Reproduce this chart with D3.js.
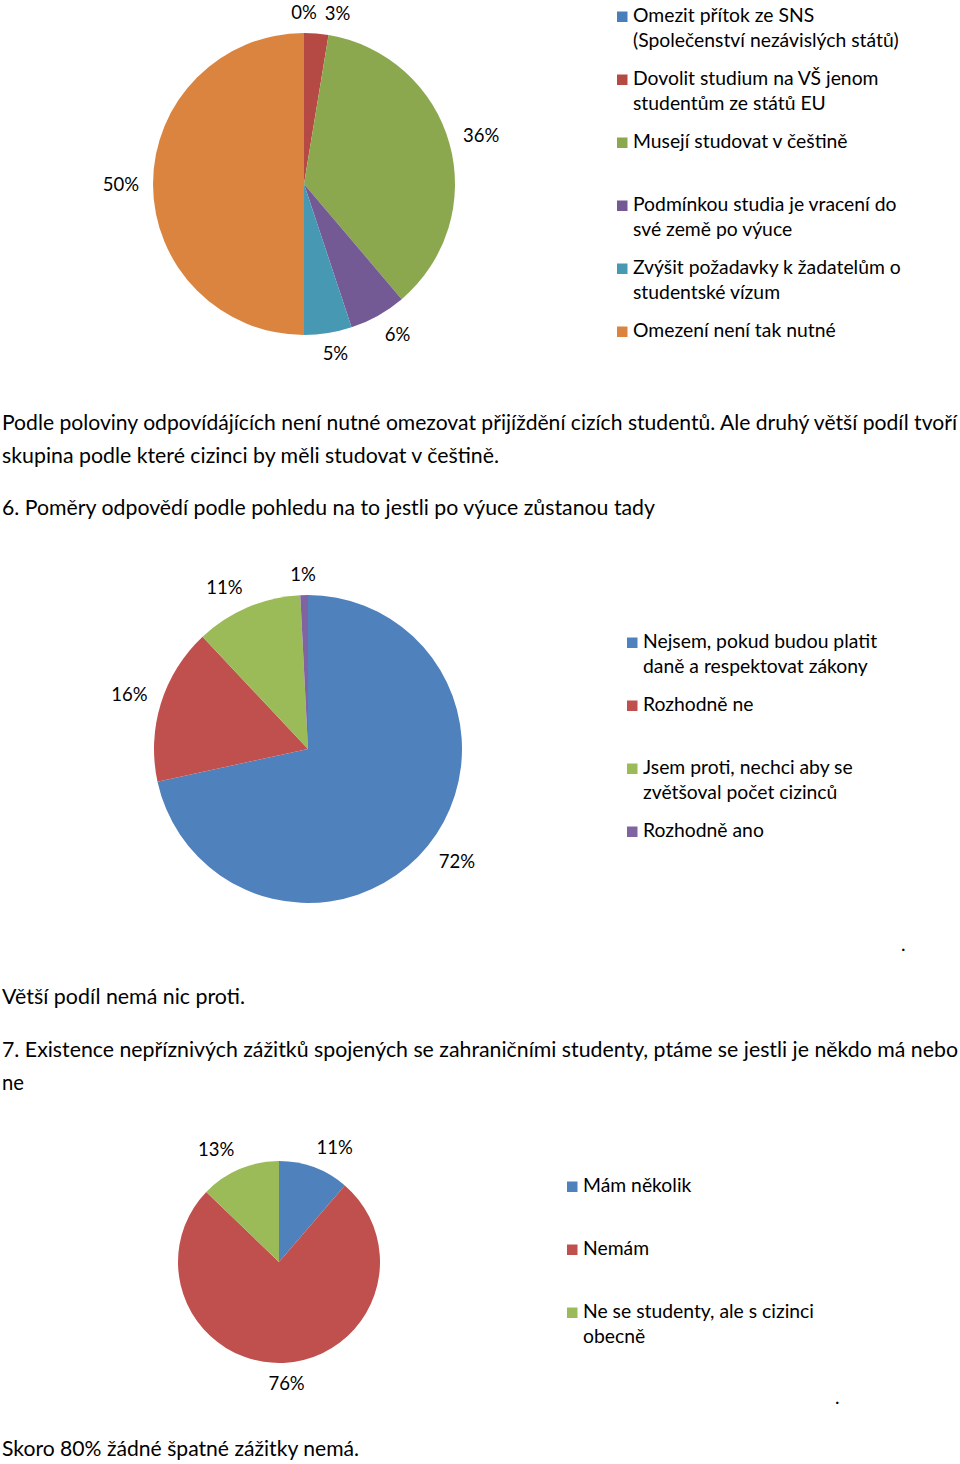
<!DOCTYPE html>
<html><head><meta charset="utf-8">
<script src="https://cdn.jsdelivr.net/npm/d3@7"></script>
<style>html,body{margin:0;padding:0;background:#fff}svg{display:block}</style>
</head><body>
<svg id="c" width="960" height="1464"></svg>
<script>
// ---------- DATA ----------
const chart1Categories = [
  "Omezit přítok ze SNS\n(Společenství nezávislých států)",
  "Dovolit studium na VŠ jenom\nstudentům ze států EU",
  "Musejí studovat v češtině",
  "Podmínkou studia je vracení do\nsvé země po výuce",
  "Zvýšit požadavky k žadatelům o\nstudentské vízum",
  "Omezení není tak nutné"
];
const chart1Values = [0, 2.6, 36.2, 6.1, 5.1, 50];
const chart1Labels = ["0%", "3%", "36%", "6%", "5%", "50%"];

const chart2Categories = [
  "Nejsem, pokud budou platit\ndaně a respektovat zákony",
  "Rozhodně ne",
  "Jsem proti, nechci aby se\nzvětšoval počet cizinců",
  "Rozhodně ano"
];
const chart2Values = [71.6, 16.4, 11.2, 0.8];
const chart2Labels = ["72%", "16%", "11%", "1%"];

const chart3Categories = [
  "Mám několik",
  "Nemám",
  "Ne se studenty, ale s cizinci\nobecně"
];
const chart3Values = [11.3, 75.9, 12.8];
const chart3Labels = ["11%", "76%", "13%"];

const paragraphs = [
  "Podle poloviny odpovídájících není nutné omezovat přijíždění cizích studentů. Ale druhý větší podíl tvoří",
  "skupina podle které cizinci by měli studovat v češtině.",
  "6. Poměry odpovědí podle pohledu na to jestli po výuce zůstanou tady",
  "Větší podíl nemá nic proti.",
  "7. Existence nepříznivých zážitků spojených se zahraničními studenty, ptáme se jestli je někdo má nebo",
  "ne",
  "Skoro 80% žádné špatné zážitky nemá."
];

// ---------- STYLE / LAYOUT ----------
const FONT = "Lato, 'Open Sans', sans-serif";
const colors1 = ["#4A7EBB", "#B54A44", "#8BA84F", "#735A95", "#4799B3", "#DA843F"];
const colors2 = ["#4F81BD", "#C0504D", "#9BBB59", "#8064A2"];
const colors3 = ["#4F81BD", "#C0504D", "#9BBB59"];

const paraLayout = [
  {y: 430, w: 955}, {y: 463, w: 497}, {y: 515, w: 653},
  {y: 1004, w: 243}, {y: 1057, w: 956}, {y: 1090, w: 22}, {y: 1456, w: 357}
];

const svg = d3.select("#c");
svg.append("rect").attr("width", 960).attr("height", 1464).attr("fill", "#fff");

function measure(text, size) {
  const t = svg.append("text").attr("font-family", FONT).attr("font-size", size).text(text);
  const w = t.node().getComputedTextLength();
  t.remove();
  return w;
}
function fitSize(text, target, base) {
  return base * target / measure(text, base);
}

const bodySize = Math.min(22, fitSize(paragraphs[0], 955, 21));
const legendSize = fitSize("(Společenství nezávislých států)", 266, 19);
const labelSize = Math.max(18.5, fitSize("36%", 36, 19));

// Paragraph text
paragraphs.forEach((p, i) => {
  svg.append("text")
    .attr("x", 2).attr("y", paraLayout[i].y)
    .attr("font-family", FONT).attr("font-size", bodySize)
    .attr("fill", "#000")
    .attr("textLength", paraLayout[i].w)
    .attr("lengthAdjust", "spacingAndGlyphs")
    .text(p);
});

const clamp = v => Math.max(-1, Math.min(1, v));

function drawPie(cfg) {
  const data = cfg.values.map((v, i) => ({v, i}));
  const pie = d3.pie().sort(null).value(d => d.v);
  const arcs = pie(data);
  const arc = d3.arc().innerRadius(0).outerRadius(cfg.r);
  const g = svg.append("g").attr("transform", `translate(${cfg.cx},${cfg.cy})`);
  g.selectAll("path").data(arcs).join("path")
    .attr("d", arc)
    .attr("fill", d => cfg.colors[d.data.i]);

  // labels (outside end)
  const capH = labelSize * 0.72;
  const boxes = arcs.map(d => {
    const a = (d.startAngle + d.endAngle) / 2;
    const txt = cfg.labels[d.data.i];
    const w = measure(txt, labelSize);
    const R = cfg.r + cfg.gap;
    const px = R * Math.sin(a), py = -R * Math.cos(a);
    return {a, txt, w, h: capH,
      cx: px + (w / 2) * clamp(2.5 * Math.sin(a)),
      cy: py - (capH / 2) * clamp(2.5 * Math.cos(a))};
  });
  for (let i = 1; i < boxes.length; i++) {
    for (let j = 0; j < i; j++) {
      const A = boxes[j], B = boxes[i];
      const ox = (A.w + B.w) / 2 + 8 - Math.abs(A.cx - B.cx);
      const oy = (A.h + B.h) / 2 + 4 - Math.abs(A.cy - B.cy);
      if (ox > 0 && oy > 0) {
        const dir = B.cx >= A.cx ? 1 : -1;
        B.cx += dir * ox;
      }
    }
  }
  g.selectAll("text.lbl").data(boxes).join("text").attr("class", "lbl")
    .attr("x", d => d.cx).attr("y", d => d.cy + d.h / 2)
    .attr("text-anchor", "middle")
    .attr("font-family", FONT).attr("font-size", labelSize)
    .attr("fill", "#000")
    .text(d => d.txt);

  // legend
  const lg = svg.append("g");
  cfg.categories.forEach((c, i) => {
    const by = cfg.legY + i * 63;
    lg.append("rect")
      .attr("x", cfg.legX).attr("y", by - 10.5)
      .attr("width", 10.5).attr("height", 10.5)
      .attr("fill", cfg.colors[i]);
    c.split("\n").forEach((line, k) => {
      lg.append("text")
        .attr("x", cfg.legX + 16).attr("y", by + k * 25)
        .attr("font-family", FONT).attr("font-size", legendSize)
        .attr("fill", "#000")
        .text(line);
    });
  });
  if (cfg.dot) {
    svg.append("text").attr("x", cfg.dot[0]).attr("y", cfg.dot[1])
      .attr("font-family", FONT).attr("font-size", legendSize)
      .attr("fill", "#000").text(".");
  }
}

drawPie({cx: 304, cy: 184, r: 151, gap: 14, values: chart1Values, labels: chart1Labels,
  categories: chart1Categories, colors: colors1, legX: 617, legY: 22});
drawPie({cx: 308, cy: 749, r: 154, gap: 14, values: chart2Values, labels: chart2Labels,
  categories: chart2Categories, colors: colors2, legX: 627, legY: 648, dot: [901, 951]});
drawPie({cx: 279, cy: 1262, r: 101, gap: 14, values: chart3Values, labels: chart3Labels,
  categories: chart3Categories, colors: colors3, legX: 567, legY: 1192, dot: [835, 1404]});
</script>
</body></html>
